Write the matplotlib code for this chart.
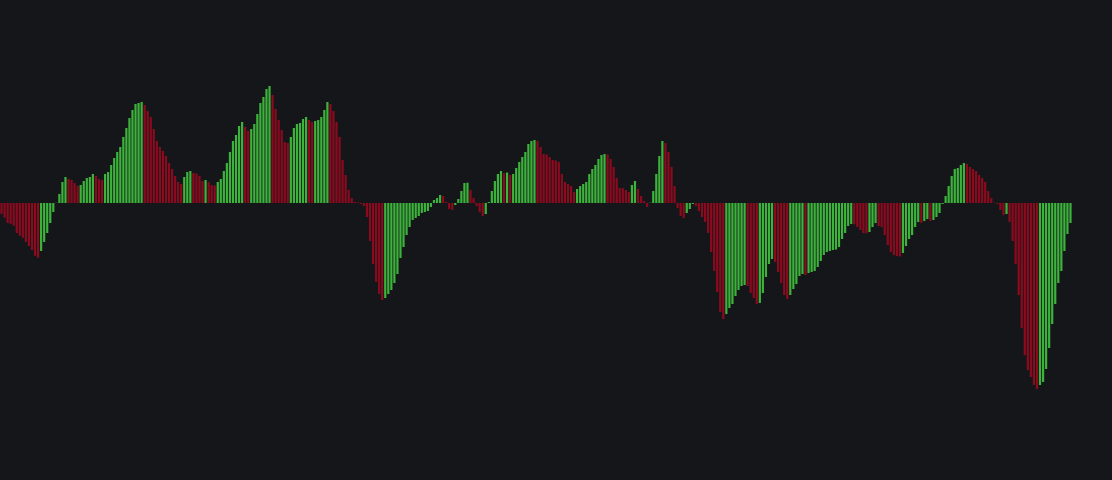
from matplotlib import pyplot as plt
import numpy as np

# histogram values, left to right
hist_a = [-11, -14.7, -20, -20.7, -22.7, -30, -32.7, -34.7, -39, -43, -47, -52.7, -54.7,
          -48, -39, -30, -20, -9, 0.2, 9, 21, 26, 24, 23, 20, 17, 18, 22, 25, 26, 29, 27, 24]
hist_b = [23, 29, 31, 38, 45, 51, 56, 66, 75, 85, 93, 99, 100, 101, 98, 92, 86, 74, 62, 56,
          52, 47, 40, 34, 27, 21, 19, 26, 31, 32, 30, 29.5, 27]
hist_c = [22, 23, 21, 18, 17.5, 21, 24, 32, 40, 51, 62, 68, 77, 81, 76, 72, 74, 79, 89, 100,
          106, 114, 117, 108, 94, 83, 73, 61, 60, 66, 75, 79, 80]
hist_d = [84, 86, 83, 81, 82, 83, 86, 93, 101, 99, 92, 81, 66, 43, 28, 13, 5, 1, 0.7, -1, -3,
          -14, -38, -61, -79, -91, -97, -95, -91, -87, -80, -71, -55]
hist_e = [-44, -32, -24, -17, -15, -13, -10, -9, -8, -4, 3, 5, 8, 7, 1, -6, -7, -2, 4, 12, 20,
          20.3, 13, 5, -3, -9, -13, -11, 1, 12, 22, 29]
hist_f = [32, 30, 30.5, 28, 29, 35, 41, 46, 51, 59, 62, 63, 62, 56, 49, 48.5, 46, 43, 42.5, 41,
          29, 21, 19, 17, 11, 14, 17, 19, 21, 29, 34, 38, 44]
hist_g = [48, 49, 48.5, 44, 36, 25, 15, 14.8, 13, 11, 18, 22, 14, 7, 2, -4, 0.3, 12, 29, 47, 62,
          60, 51, 36, 17, -5, -13, -15, -10, -6, -1, -3, -8]
hist_h = [-14, -19, -30, -49, -68, -89, -109, -116, -111, -105, -101, -93, -87, -83, -82, -83,
          -90, -95, -101, -100, -90, -74, -61, -56, -59, -69, -80, -92, -96, -92, -86, -81]
hist_i = [-73, -71, -72, -70, -69, -68, -64, -58, -52, -49, -48, -47, -46.5, -44, -36, -30, -23,
          -21, -21.3, -24, -27, -30, -30.3, -29, -24, -20, -23, -24, -32, -42, -49, -52, -53]
hist_j = [-53.5, -50, -43, -36, -32, -24, -19, -20, -18, -16, -18, -17, -14, -10, -1, 7, 17, 27,
          34, 35, 38, 40, 39, 36, 34, 32, 28, 25, 21, 12, 5, 0.3, -1]
hist_k = [-7, -12, -11, -19, -38, -61, -92, -125, -152, -167, -174, -182, -186, -182, -179,
          -166, -145, -121, -101, -80, -68, -48, -31, -20]

values = np.array(hist_a + hist_b + hist_c + hist_d + hist_e + hist_f + hist_g + hist_h
                  + hist_i + hist_j + hist_k)

BG = '#15161a'
UP = '#3cb43c'
DOWN = '#8c0a1e'

# green when the histogram rises, red when it falls
diff = np.diff(values, prepend=values[0] + 1)
colors = [UP if d >= 0 else DOWN for d in diff]

fig = plt.figure(figsize=(11.12, 4.8), dpi=100, facecolor=BG)
ax = fig.add_axes([0, 0, 1, 1])
ax.set_facecolor(BG)

x = np.arange(len(values))
ax.bar(x, values, width=0.72, color=colors, linewidth=0, snap=False)

pitch = 1072 / len(values)
ax.set_xlim(-0.5, -0.5 + 1112 / pitch)
ax.set_ylim(-277, 203)
ax.axis('off')

fig.savefig('out.png', dpi=100, facecolor=BG)
